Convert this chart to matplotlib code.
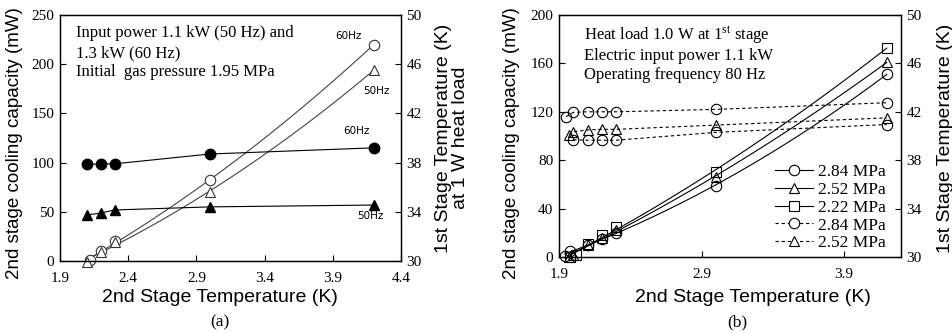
import numpy as np
import matplotlib
matplotlib.use("Agg")
import matplotlib.pyplot as plt
from matplotlib.lines import Line2D

plt.rcParams['mathtext.fontset'] = 'custom'
plt.rcParams['mathtext.rm'] = 'Liberation Serif'
plt.rcParams['mathtext.it'] = 'Liberation Serif:italic'

SERIF = 'Liberation Serif'
SANS = 'Liberation Sans'

# ---------------- Panel (a) data ----------------
a_cap60_x = [2.12, 2.2, 2.3, 3.0, 4.2]
a_cap60_y = [1, 10, 20, 82, 220]
a_cap50_x = [2.1, 2.2, 2.3, 3.0, 4.2]
a_cap50_y = [-1, 9, 19, 70, 194]
a_t60_x = [2.1, 2.2, 2.3, 3.0, 4.2]
a_t60_y = [37.85, 37.9, 37.9, 38.7, 39.2]
a_t50_x = [2.1, 2.2, 2.3, 3.0, 4.2]
a_t50_y = [33.75, 33.9, 34.15, 34.4, 34.55]
a_xticks = [1.9, 2.4, 2.9, 3.4, 3.9, 4.4]
a_yticks = [0, 50, 100, 150, 200, 250]
a_y2ticks = [30, 34, 38, 42, 46, 50]
a_notes = ["Input power 1.1 kW (50 Hz) and", "1.3 kW (60 Hz)", "Initial  gas pressure 1.95 MPa"]

# ---------------- Panel (b) data ----------------
b_cap284_x = [1.94, 1.98, 2.1, 2.2, 2.3, 3.0, 4.2]
b_cap284_y = [1, 5, 10, 15, 20, 59, 151]
b_cap252_x = [1.97, 2.0, 2.1, 2.2, 2.3, 3.0, 4.2]
b_cap252_y = [0, 2, 10, 16, 22, 66, 161]
b_cap222_x = [1.98, 2.02, 2.1, 2.2, 2.3, 3.0, 4.2]
b_cap222_y = [0, 2, 11, 18, 25, 70, 173]
b_t284_x = [1.95, 2.0, 2.1, 2.2, 2.3, 3.0, 4.2]
b_t284_y = [41.6, 41.95, 42.0, 42.0, 42.0, 42.2, 42.75]
b_t252_x = [1.97, 2.0, 2.1, 2.2, 2.3, 3.0, 4.2]
b_t252_y = [40.1, 40.35, 40.5, 40.55, 40.55, 40.9, 41.5]
b_t222_x = [2.0, 2.1, 2.2, 2.3, 3.0, 4.2]
b_t222_y = [39.7, 39.65, 39.65, 39.65, 40.3, 40.95]
b_xticks = [1.9, 2.9, 3.9]
b_yticks = [0, 40, 80, 120, 160, 200]
b_y2ticks = [30, 34, 38, 42, 46, 50]
b_notes = ["Heat load 1.0 W at 1$^{\\mathrm{st}}$ stage", "Electric input power 1.1 kW", "Operating frequency 80 Hz"]
b_labels = ["2.84 MPa", "2.52 MPa", "2.22 MPa", "2.84 MPa", "2.52 MPa"]

W, H = 952, 333
fig = plt.figure(figsize=(W / 100, H / 100), dpi=100)

def px_ax(l, t, r, b):
    return fig.add_axes([l / W, 1 - b / H, (r - l) / W, (b - t) / H])

def style(ax, xt, yt):
    ax.set_xticks(xt)
    ax.set_yticks(yt)
    ax.tick_params(direction='in', length=4, width=0.8, labelsize=11, pad=4)
    ax.tick_params(axis='x', pad=8)
    for lab in ax.get_xticklabels() + ax.get_yticklabels():
        lab.set_fontfamily(SERIF)
    for s in ax.spines.values():
        s.set_linewidth(0.9)

def fitline(ax, x, y, deg=2, **kw):
    c = np.polyfit(x, y, deg)
    xx = np.linspace(min(x), max(x), 200)
    ax.plot(xx, np.polyval(c, xx), **kw)

LW = 0.8
MS = 7.5
DASH = (0, (3, 2.5))

# ---------------- Panel (a) ----------------
ax1 = px_ax(60, 15, 401, 261)
ax1.set_xlim(1.9, 4.4)
ax1.set_ylim(0, 250)
style(ax1, a_xticks, a_yticks)
ax1.set_xticklabels([f"{v:.1f}" for v in a_xticks])
ax1.set_yticklabels([str(v) for v in a_yticks])

fitline(ax1, a_cap60_x, a_cap60_y, color='#444444', lw=LW)
fitline(ax1, a_cap50_x, a_cap50_y, color='#444444', lw=LW)
ax1.plot(a_cap60_x, a_cap60_y, 'o', mfc='white', mec='#333333', ms=MS, mew=0.8, clip_on=False)
ax1.plot(a_cap50_x, a_cap50_y, '^', mfc='white', mec='#333333', ms=MS, mew=0.8, clip_on=False)

ax1b = ax1.twinx()
ax1b.set_ylim(30, 50)
style(ax1b, a_xticks, a_y2ticks)
ax1b.set_yticklabels([str(v) for v in a_y2ticks])
ax1b.plot(a_t60_x, a_t60_y, '-o', color='black', lw=LW, ms=MS)
ax1b.plot(a_t50_x, a_t50_y, '-^', color='black', lw=LW, ms=MS)

for s, yy in zip(a_notes, [33, 53, 72]):
    fig.text(76 / W, 1 - yy / H, s, ha='left', va='center', fontsize=12, family=SERIF)
for (xx, yy, s) in [(348, 36, "60Hz"), (376, 91, "50Hz"), (356, 131, "60Hz"), (370, 216, "50Hz")]:
    fig.text(xx / W, 1 - yy / H, s, ha='center', va='center', fontsize=7.5, family='DejaVu Sans')

fig.text(220 / W, 1 - 298 / H, "2nd Stage Temperature (K)", ha='center', va='center', fontsize=14, family=SANS)
fig.text(220 / W, 1 - 322 / H, "(a)", ha='center', va='center', fontsize=12.5, family=SERIF)
fig.text(15 / W, 1 - 143 / H, "2nd stage cooling capacity (mW)", ha='center', va='center',
         rotation=90, fontsize=13.5, family=SANS)
fig.text(452 / W, 1 - 138 / H, "1st Stage Temperature (K)\nat 1 W heat load", ha='center', va='center',
         rotation=90, fontsize=14, family=SANS, linespacing=1.0)

# ---------------- Panel (b) ----------------
ax2 = px_ax(559, 15, 901, 257)
ax2.set_xlim(1.9, 4.3)
ax2.set_ylim(0, 200)
style(ax2, b_xticks, b_yticks)
ax2.set_xticklabels([f"{v:.1f}" for v in b_xticks])
ax2.set_yticklabels([str(v) for v in b_yticks])

for xs, ys, m in [(b_cap284_x, b_cap284_y, 'o'), (b_cap252_x, b_cap252_y, '^'), (b_cap222_x, b_cap222_y, 's')]:
    fitline(ax2, xs, ys, color='black', lw=LW)
    ax2.plot(xs, ys, m, mfc='none', mec='black', ms=MS, mew=0.8, clip_on=False)

ax2b = ax2.twinx()
ax2b.set_ylim(30, 50)
style(ax2b, b_xticks, b_y2ticks)
ax2b.set_yticklabels([str(v) for v in b_y2ticks])
for xs, ys, m in [(b_t284_x, b_t284_y, 'o'), (b_t252_x, b_t252_y, '^'), (b_t222_x, b_t222_y, 'o')]:
    ax2b.plot(xs, ys, ls=DASH, marker=m, color='black', lw=LW, mfc='none', ms=MS, mew=0.8)

for s, yy in zip(b_notes, [35, 56, 75]):
    fig.text(584 / W, 1 - yy / H, s, ha='left', va='center', fontsize=12, family=SERIF)

handles = [
    Line2D([], [], color='black', lw=LW, marker='o', mfc='white', ms=MS, mew=0.8),
    Line2D([], [], color='black', lw=LW, marker='^', mfc='white', ms=MS, mew=0.8),
    Line2D([], [], color='black', lw=LW, marker='s', mfc='white', ms=MS, mew=0.8),
    Line2D([], [], color='black', lw=LW, ls=DASH, marker='o', mfc='white', ms=MS, mew=0.8),
    Line2D([], [], color='black', lw=LW, ls=DASH, marker='^', mfc='white', ms=MS, mew=0.8),
]
leg = ax2.legend(handles, b_labels, loc='lower right', bbox_to_anchor=(0.985, -0.02), frameon=False,
                 prop={'family': SERIF, 'size': 12.5}, handlelength=2.2, handletextpad=0.25,
                 labelspacing=0.1, borderaxespad=0.2)

fig.text(753 / W, 1 - 297 / H, "2nd Stage Temperature (K)", ha='center', va='center', fontsize=14, family=SANS)
fig.text(737 / W, 1 - 322 / H, "(b)", ha='center', va='center', fontsize=12.5, family=SERIF)
fig.text(512 / W, 1 - 143 / H, "2nd stage cooling capacity (mW)", ha='center', va='center',
         rotation=90, fontsize=13.5, family=SANS)
fig.text(945 / W, 1 - 138 / H, "1st Stage Temperature (K)", ha='center', va='center',
         rotation=90, fontsize=14, family=SANS)

fig.savefig("out.png", dpi=100)
